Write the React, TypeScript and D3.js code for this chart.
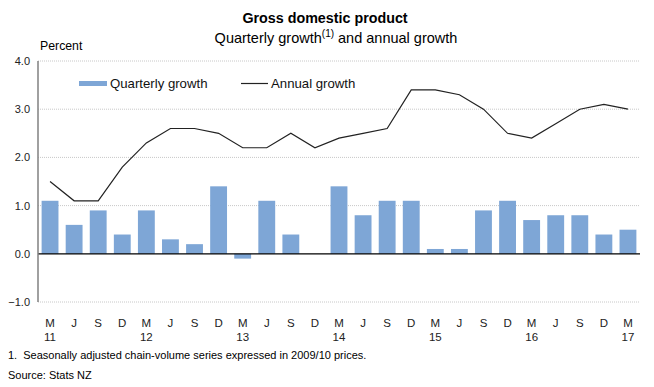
import React, { useEffect, useRef } from "react";
import * as d3 from "d3";

const quarters = ["M", "J", "S", "D", "M", "J", "S", "D", "M", "J", "S", "D", "M", "J", "S", "D", "M", "J", "S", "D", "M", "J", "S", "D", "M"];
const years = ["11", "", "", "", "12", "", "", "", "13", "", "", "", "14", "", "", "", "15", "", "", "", "16", "", "", "", "17"];
const quarterly = [1.1, 0.6, 0.9, 0.4, 0.9, 0.3, 0.2, 1.4, -0.1, 1.1, 0.4, 0.0, 1.4, 0.8, 1.1, 1.1, 0.1, 0.1, 0.9, 1.1, 0.7, 0.8, 0.8, 0.4, 0.5];
const annual = [1.5, 1.1, 1.1, 1.8, 2.3, 2.6, 2.6, 2.5, 2.2, 2.2, 2.5, 2.2, 2.4, 2.5, 2.6, 3.4, 3.4, 3.3, 3.0, 2.5, 2.4, 2.7, 3.0, 3.1, 3.0];
const yTicks = [-1, 0, 1, 2, 3, 4];

const W = 654;
const H = 387;
const barColor = "#7ea6d6";
const font = "'Liberation Sans', Arial, sans-serif";

const GdpChart = () => {
  const ref = useRef<SVGSVGElement | null>(null);

  useEffect(() => {
    drawChart();
  }, []);

  const drawChart = () => {
    const svg = d3.select(ref.current);
    svg.selectAll("*").remove();

    const x = d3
      .scaleBand<number>()
      .domain(d3.range(quarters.length))
      .range([38, 640])
      .paddingInner(0.3)
      .paddingOuter(0.15);
    const y = d3.scaleLinear().domain([-1, 4]).range([302, 61]);

    // gridlines
    svg
      .append("g")
      .selectAll("line")
      .data(yTicks.filter((d) => d !== 0))
      .enter()
      .append("line")
      .attr("x1", 38)
      .attr("x2", 640)
      .attr("y1", (d) => y(d))
      .attr("y2", (d) => y(d))
      .attr("stroke", "#c8c8c8")
      .attr("stroke-width", 1)
      .attr("stroke-dasharray", "1,1");

    // tick labels
    svg
      .append("g")
      .selectAll("text")
      .data(yTicks)
      .enter()
      .append("text")
      .attr("x", 30)
      .attr("y", (d) => y(d) + 4)
      .attr("text-anchor", "end")
      .attr("font-family", font)
      .attr("font-size", 11)
      .attr("fill", "#222")
      .text((d) => d3.format(".1f")(d));

    // bars
    svg
      .append("g")
      .selectAll("rect")
      .data(quarterly)
      .enter()
      .append("rect")
      .attr("x", (d, i) => x(i)!)
      .attr("width", x.bandwidth())
      .attr("y", (d) => y(Math.max(0, d)))
      .attr("height", (d) => Math.abs(y(d) - y(0)))
      .attr("fill", barColor);

    // zero line and y axis
    svg
      .append("line")
      .attr("x1", 38)
      .attr("x2", 640)
      .attr("y1", y(0))
      .attr("y2", y(0))
      .attr("stroke", "#000")
      .attr("stroke-width", 1.2);
    svg
      .append("line")
      .attr("x1", 38)
      .attr("x2", 38)
      .attr("y1", y(4))
      .attr("y2", y(-1))
      .attr("stroke", "#808080")
      .attr("stroke-width", 1.5);

    // annual line
    const line = d3
      .line<number>()
      .x((d, i) => x(i)! + x.bandwidth() / 2)
      .y((d) => y(d));
    svg
      .append("path")
      .datum(annual)
      .attr("d", line)
      .attr("fill", "none")
      .attr("stroke", "#222")
      .attr("stroke-width", 1.2);

    // x labels
    const xl = svg.append("g").attr("font-family", font).attr("font-size", 11.5).attr("fill", "#222").attr("text-anchor", "middle");
    quarters.forEach((q, i) => {
      const cx = x(i)! + x.bandwidth() / 2;
      xl.append("text").attr("x", cx).attr("y", 327).text(q);
      if (years[i]) xl.append("text").attr("x", cx).attr("y", 341).text(years[i]);
    });

    // legend
    const lg = svg.append("g").attr("font-family", font).attr("font-size", 13.2).attr("fill", "#111");
    lg.append("rect").attr("x", 79).attr("y", 81).attr("width", 28).attr("height", 5).attr("fill", barColor);
    lg.append("text").attr("x", 110).attr("y", 88).text("Quarterly growth");
    lg.append("line").attr("x1", 241).attr("x2", 268).attr("y1", 83.5).attr("y2", 83.5).attr("stroke", "#222").attr("stroke-width", 1.2);
    lg.append("text").attr("x", 271).attr("y", 88).text("Annual growth");

    // titles
    svg
      .append("text")
      .attr("x", 325)
      .attr("y", 23)
      .attr("text-anchor", "middle")
      .attr("font-family", font)
      .attr("font-size", 14.3)
      .attr("font-weight", "bold")
      .text("Gross domestic product");
    const sub = svg
      .append("text")
      .attr("x", 336)
      .attr("y", 43)
      .attr("text-anchor", "middle")
      .attr("font-family", font)
      .attr("font-size", 14.5);
    sub.append("tspan").text("Quarterly growth");
    sub.append("tspan").attr("font-size", 10).attr("dy", -6).text("(1)");
    sub.append("tspan").attr("dy", 6).text(" and annual growth");

    svg
      .append("text")
      .attr("x", 40)
      .attr("y", 50)
      .attr("font-family", font)
      .attr("font-size", 12.3)
      .text("Percent");

    // notes
    svg
      .append("text")
      .attr("x", 8)
      .attr("y", 359)
      .attr("font-family", font)
      .attr("font-size", 11)
      .attr("xml:space", "preserve")
      .text("1.  Seasonally adjusted chain-volume series expressed in 2009/10 prices.");
    svg
      .append("text")
      .attr("x", 8)
      .attr("y", 379)
      .attr("font-family", font)
      .attr("font-size", 11)
      .text("Source: Stats NZ");
  };

  return <svg ref={ref} width={W} height={H} style={{ display: "block", position: "absolute", left: 0, top: 0 }} />;
};

export default function App() {
  return <GdpChart />;
}
